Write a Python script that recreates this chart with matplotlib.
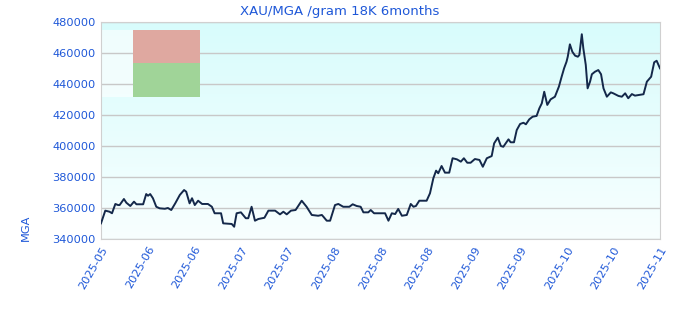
import numpy as np
import matplotlib
matplotlib.use("Agg")
import matplotlib.pyplot as plt
from matplotlib.patches import Rectangle

# days since start of window, price in MGA per gram (18K)
days = [0, 1.4, 2.8, 3.6, 4.7, 5.6, 6.1, 7.5, 8.3, 9.6, 10.8, 11.6, 13.8, 14.8, 15.4,
        16.1, 17.0, 18.1, 19.2, 20.9, 21.9, 23.0, 24.3, 25.8, 27.2, 27.9, 29.0, 29.8,
        30.7, 31.8, 33.1, 35.0, 36.3, 37.2, 38.1, 39.3, 40.0, 42.8, 43.6, 44.4, 45.8,
        47.4, 48.2, 49.3, 50.4, 51.5, 53.5, 54.8, 57.0, 58.6, 59.7, 60.8, 62.2, 63.7,
        65.7, 67.3, 69.0, 71.1, 72.3, 72.8, 73.9, 75.0, 76.6, 77.7, 79.3, 81.3, 82.4,
        83.7, 85.0, 85.9, 87.5, 88.3, 89.4, 93.0, 94.1, 95.2, 96.3, 97.3, 98.5, 100.1,
        101.4, 102.3, 103.1, 104.2, 106.6, 107.7, 108.8, 109.7, 110.4, 111.5, 112.6,
        114.0, 115.1, 116.5, 117.8, 118.8, 119.9, 121.0, 122.4, 123.9, 125.0, 126.3,
        127.9, 128.7, 129.9, 130.9, 131.7, 133.4, 134.1, 135.2, 136.1, 137.2, 138.3,
        139.1, 140.2, 141.3, 142.6, 143.5, 144.3, 145.1, 146.1, 147.2, 148.6, 149.9,
        150.8, 151.6, 152.4, 152.8, 153.5, 154.3, 155.2, 156.1, 156.6, 157.4, 157.9,
        158.7, 159.3, 160.1, 160.7, 161.7, 162.8, 163.7, 164.5, 165.6, 166.9, 167.7,
        169.4, 170.5, 171.6, 172.6, 173.8, 174.8, 177.6, 178.7, 180.1, 181.1, 181.9, 183]
price = [350100, 358300, 357600, 356600, 362600, 361900, 361900, 365800, 363400, 361300,
         364100, 362400, 362400, 369000, 367900, 369000, 366300, 360800, 359800, 359500,
         360000, 358700, 363000, 368400, 371600, 370500, 363000, 366300, 361900, 364700,
         362600, 362600, 360800, 356600, 356600, 356600, 350100, 349700, 347900, 356600,
         357200, 353400, 353400, 360800, 351800, 352900, 353700, 358300, 358300, 355900,
         357600, 355900, 358300, 358700, 364700, 360800, 355500, 355000, 355500, 354400,
         351800, 351800, 361900, 362600, 360800, 360800, 362400, 361300, 360800, 357200,
         357200, 358700, 356600, 356600, 351800, 356600, 356100, 359400, 355000, 355500,
         362600, 360800, 361300, 364700, 364700, 369500, 379200, 384100, 382400, 387100,
         382800, 382800, 392100, 391400, 389900, 392100, 389200, 389200, 391600, 391000,
         386600, 392100, 393500, 401700, 405400, 400000, 399500, 404300, 402400, 402400,
         410300, 414200, 415000, 414000, 417200, 418900, 419400, 424300, 427500, 435000,
         426500, 430100, 431800, 438300, 444700, 450100, 454400, 457600, 465600, 460800,
         458300, 457600, 458700, 472100, 463000, 452300, 437200, 441500, 446300, 447900,
         449000, 446300, 437200, 431800, 434600, 434000, 432300, 431800, 434000, 430800,
         433500, 432500, 433400, 441500, 444700, 454000, 455000, 450100]

tick_labels = ["2025-05", "2025-06", "2025-06", "2025-07", "2025-07", "2025-08", "2025-08",
               "2025-08", "2025-09", "2025-09", "2025-10", "2025-10", "2025-11"]
y_ticks = [340000, 360000, 380000, 400000, 420000, 440000, 460000, 480000]

blue = "#1f58d8"
grid_col = "#c8c8c8"

fig = plt.figure(figsize=(6.8, 3.2), dpi=100)
ax = fig.add_axes([101/680, 1 - 239/320, 559/680, 217/320])

# background gradient: cyan at top fading to almost white
grad = np.linspace(0, 1, 256).reshape(-1, 1)
cmap = matplotlib.colors.LinearSegmentedColormap.from_list("bg", ["#f8ffff", "#d8fcfc"])
ax.imshow(grad, aspect="auto", cmap=cmap, origin="lower",
          extent=(0, 1, 0, 1), transform=ax.transAxes, zorder=0)

# legend-like box in the top left
ax.add_patch(Rectangle((0, 0.656), 0.057, 0.307, transform=ax.transAxes,
                       facecolor="white", alpha=0.6, edgecolor="none", zorder=1))
ax.add_patch(Rectangle((0.057, 0.81), 0.12, 0.153, transform=ax.transAxes,
                       facecolor="#dfa8a0", edgecolor="none", zorder=3))
ax.add_patch(Rectangle((0.057, 0.656), 0.12, 0.154, transform=ax.transAxes,
                       facecolor="#a0d498", edgecolor="none", zorder=3))

for v in y_ticks:
    ax.axhline(v, color=grid_col, lw=1, zorder=2)

ax.plot(days, price, color="#14284a", lw=1.4, zorder=4)

ax.set_xlim(0, 183)
ax.set_ylim(340000, 480000)
ax.set_yticks(y_ticks)
ax.set_yticklabels([str(v) for v in y_ticks], color=blue, fontsize=8.2)
ax.set_xticks(np.linspace(0, 183, len(tick_labels)))
ax.set_xticklabels(tick_labels, color=blue, fontsize=8.2, rotation=60,
                   ha="right", va="top", rotation_mode="anchor")
ax.tick_params(length=0, pad=4)
for s in ax.spines.values():
    s.set_color("#d0d0d0")

fig.text(0.5, 1 - 11/320, "XAU/MGA /gram 18K 6months", color=blue, fontsize=9.5,
         ha="center", va="center")
fig.text(26/680, 1 - 228/320, "MGA", color=blue, fontsize=8.2, rotation=90,
         ha="center", va="center")

fig.savefig("out.png", dpi=100)
